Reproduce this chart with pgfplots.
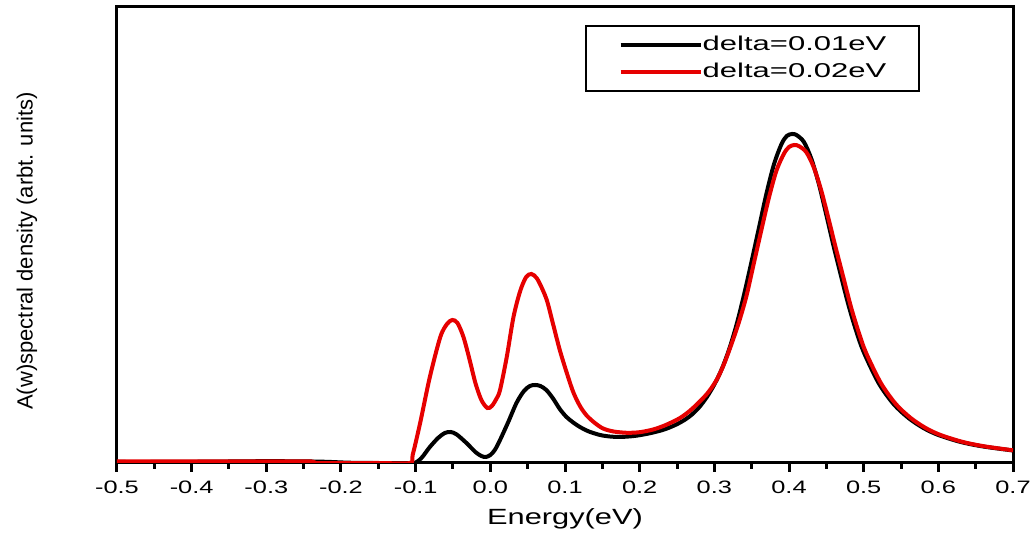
\documentclass[border=0pt]{standalone}
\usepackage{fontspec}
\setmainfont{Liberation Sans}
\newfontfamily\tickfont{Liberation Sans}[FakeStretch=1.41]
\newfontfamily\labfont{Liberation Sans}[FakeStretch=1.4]
\newfontfamily\legfont{Liberation Sans}[FakeStretch=1.55]
\usepackage{pgfplots}
\pgfplotsset{compat=1.18}
\definecolor{myred}{RGB}{230,0,0}
\begin{document}
\begin{tikzpicture}
\begin{axis}[
  scale only axis, width=448pt, height=228pt,
  xmin=-0.5, xmax=0.7, ymin=0, ymax=456,
  axis line style={line width=1.5pt, black},
  xtick={-0.5,-0.4,-0.3,-0.2,-0.1,0,0.1,0.2,0.3,0.4,0.5,0.6,0.7},
  xticklabels={-0.5,-0.4,-0.3,-0.2,-0.1,0.0,0.1,0.2,0.3,0.4,0.5,0.6,0.7},
  minor xtick={-0.45,-0.35,-0.25,-0.15,-0.05,0.05,0.15,0.25,0.35,0.45,0.55,0.65},
  ytick=\empty,
  xtick pos=left, tick align=outside,
  major tick length=4.5pt, minor tick length=3pt,
  every tick/.style={line width=1.5pt, black},
  xticklabel style={font=\fontsize{9}{10}\tickfont, anchor=north, inner sep=0pt, text height=6.5pt, text depth=0pt},
  xticklabel shift=4pt,
  xlabel={Energy(eV)},
  xlabel style={font=\fontsize{11}{13}\labfont, at={(rel axis cs:0.5,0)}, anchor=base, yshift=-31pt},
  ylabel={A(w)spectral density (arbt. units)},
  ylabel style={font=\fontsize{11}{13}\selectfont, at={(rel axis cs:0,0.465)}, anchor=center, yshift=45pt},
  legend cell align=left,
  legend style={at={(rel axis cs:0.522,0.9605)}, anchor=north west, draw=black, line width=1pt, fill=white,
    inner xsep=16.5pt, inner ysep=5pt, row sep=5pt, column sep=0pt,
    nodes={inner sep=0pt}, font=\fontsize{10}{12}\legfont},
  legend image code/.code={\draw[#1] (0pt,0pt) -- (40pt,0pt);},
]
\coordinate (SW) at (rel axis cs:0,0);
\coordinate (NE) at (rel axis cs:1,1);
\addplot[black, line width=2pt, smooth] coordinates {
(-0.50,1.0)(-0.45,1.0)(-0.40,1.2)(-0.35,1.5)(-0.30,1.8)(-0.25,1.6)(-0.22,1.2)(-0.19,0.3)(-0.16,0)(-0.102,0)
(-0.100,0.5)(-0.095,3)(-0.09,7)(-0.081,16)(-0.07,25)(-0.061,30)(-0.053,31)(-0.045,28.5)(-0.032,20)(-0.020,11)
(-0.012,7)(-0.006,6)(0.0,8)(0.006,13)(0.013,23)(0.024,41)(0.035,60)(0.045,72)(0.053,77)(0.060,78)(0.067,77)
(0.075,73)(0.084,64.5)(0.093,54)(0.102,46)(0.111,40.5)(0.120,36)(0.132,31.5)(0.147,28)(0.160,26.5)(0.174,26)
(0.19,26.8)(0.20,27.8)(0.214,29.8)(0.23,32.8)(0.24,35.5)(0.25,38.8)(0.26,43)(0.27,48.5)(0.28,56)(0.29,66)(0.30,78.5)
(0.31,94)(0.32,114)(0.33,139)(0.34,169)(0.35,202)(0.36,236)(0.37,270)(0.38,299)(0.39,319)(0.397,327)(0.404,329)
(0.41,328)(0.42,321)(0.43,304)(0.44,279)(0.45,248)(0.46,216)(0.47,186)(0.48,157)(0.49,132)(0.50,111)(0.52,80)
(0.54,59)(0.56,45)(0.58,35)(0.60,28)(0.63,21)(0.66,16.5)(0.70,12.5)
};
\addlegendentry{delta=0.01eV}
\addplot[myred, line width=2pt, smooth] coordinates {
(-0.50,1.5)(-0.40,1.5)(-0.30,1.5)(-0.24,1.5)(-0.235,0)(-0.15,0)(-0.108,0)(-0.104,8)(-0.094,40)(-0.081,86)
(-0.067,126)(-0.058,139)(-0.051,143)(-0.044,140)(-0.036,126)(-0.028,104)(-0.020,80)(-0.012,63)(-0.004,55)
(0.002,57)(0.008,64)(0.013,73)(0.022,106)(0.031,146)(0.040,172)(0.048,186)(0.055,189)(0.062,185)(0.069,175)
(0.076,162)(0.084,139)(0.093,113)(0.102,91)(0.111,71)(0.120,57)(0.129,47.5)(0.140,40)(0.151,34.5)(0.165,31.5)
(0.183,30.2)(0.20,30.8)(0.218,33.5)(0.235,38)(0.254,45)(0.27,54)(0.29,69)(0.303,83)(0.313,99)(0.323,119)
(0.333,141)(0.343,167)(0.353,200)(0.363,233)(0.373,265)(0.383,292)(0.393,309)(0.400,316)(0.407,318)(0.413,317)
(0.423,311)(0.433,296)(0.443,273)(0.453,244)(0.463,214)(0.473,185)(0.483,156)(0.493,131.5)(0.503,110.5)(0.523,80)
(0.543,59)(0.563,45)(0.583,35)(0.603,28)(0.633,21)(0.663,16.5)(0.70,12.7)
};
\addlegendentry{delta=0.02eV}
\end{axis}
\pgfresetboundingbox
\path ([shift={(-58.5pt,-38.5pt)}]SW) rectangle ([shift={(11.5pt,3.5pt)}]NE);
\end{tikzpicture}
\end{document}
